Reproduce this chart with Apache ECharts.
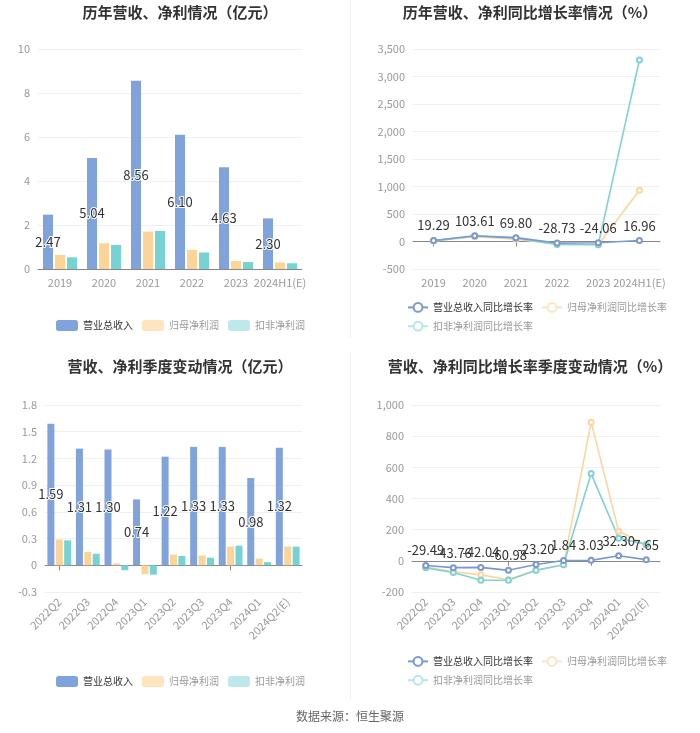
<!DOCTYPE html>
<html><head><meta charset="utf-8">
<script src="https://cdn.jsdelivr.net/npm/echarts@6/dist/echarts.min.js"></script>
<style>html,body{margin:0;padding:0;background:#fff}#c{width:700px;height:733px}</style>
</head><body><div id="c"></div>
<script>
const years = ['2019','2020','2021','2022','2023','2024H1(E)'];
const yRevenue = [2.47,5.04,8.56,6.10,4.63,2.30];
const yNetProfit = [0.64,1.17,1.70,0.87,0.36,0.30];
const yDeductProfit = [0.53,1.09,1.73,0.75,0.32,0.26];
const yRevGrowth = [19.29,103.61,69.80,-28.73,-24.06,16.96];
const yNpGrowth = [10,85,43,-49,-58,930];
const yDnpGrowth = [12,100,58,-55,-58,3300];
const quarters = ['2022Q2','2022Q3','2022Q4','2023Q1','2023Q2','2023Q3','2023Q4','2024Q1','2024Q2(E)'];
const qRevenue = [1.59,1.31,1.30,0.74,1.22,1.33,1.33,0.98,1.32];
const qNetProfit = [0.29,0.15,0.02,-0.10,0.12,0.11,0.21,0.075,0.21];
const qDeductProfit = [0.28,0.13,-0.055,-0.105,0.105,0.085,0.22,0.035,0.21];
const qRevGrowth = [-29.49,-43.76,-42.04,-60.98,-23.20,1.84,3.03,32.30,7.65];
const qNpGrowth = [-40,-70,-90,-120,-60,-25,890,190,100];
const qDnpGrowth = [-45,-75,-125,-125,-60,-25,560,145,105];

const FONT = '"Noto Sans CJK SC","Noto Sans",sans-serif';
const C_REV = '#80a3db', C_NP = '#fdd497', C_DNP = '#76d2d3';
const C_REVL = '#7d98cc', C_NPL = '#fcd6a2', C_DNPL = '#7fd3d4';
const AX = '#999';

const chart = echarts.init(document.getElementById('c'), null, {renderer:'canvas'});
const barLabel = {show:true, position:'inside', color:'#333', fontSize:13, fontFamily:FONT, textBorderColor:'#fff', textBorderWidth:2, formatter: p => p.value.toFixed(2)};
const lineLabel = {show:true, position:'top', color:'#333', fontSize:13, fontFamily:FONT, formatter: p => p.value.toFixed(2)};

function yAx(gi, min, max, interval) {
  return {type:'value', gridIndex:gi, min, max, interval,
    axisLabel:{color:AX, fontSize:11, fontFamily:FONT},
    axisLine:{show:false}, axisTick:{show:false},
    splitLine:{lineStyle:{color:'#eef0f4'}}};
}
function xAxLabels(gi, data, rotate) {
  return {type:'category', gridIndex:gi, data, position:'bottom',
    axisLine:{show:false, onZero:false}, axisTick:{show:false},
    axisLabel:{color:AX, fontSize:11, fontFamily:FONT, rotate:rotate||0, interval:0, margin:8}};
}
function xAxZero(gi, data, ticks) {
  return {type:'category', gridIndex:gi, data, position:'bottom',
    axisLine:{show:true, onZero:true, lineStyle:{color:'#888'}},
    axisTick:{show:ticks, alignWithLabel:true, lineStyle:{color:'#888'}},
    axisLabel:{show:false}, splitLine:{show:false}};
}
const lgText = {fontSize:10, fontFamily:FONT, color:'#999'};
function barLegend(top) {
  return {top, left:51, itemWidth:22, itemHeight:11, itemGap:9, textStyle:lgText,
    data:[
      {name:'营业总收入', textStyle:{color:'#333'}},
      {name:'归母净利润', itemStyle:{color:'#fee5bf'}},
      {name:'扣非净利润', itemStyle:{color:'#bde9ea'}}
    ]};
}
function lineLegend(top, left) {
  return {top, left, width:270, itemWidth:20, itemHeight:11, itemGap:8, textStyle:lgText,
    data:[
      {name:'营业总收入同比增长率', textStyle:{color:'#333'}},
      {name:'归母净利润同比增长率', itemStyle:{color:'#fde4c4', borderColor:'#fde4c4'}, lineStyle:{color:'#fde4c4'}},
      {name:'扣非净利润同比增长率', itemStyle:{color:'#b5e6e8', borderColor:'#b5e6e8'}, lineStyle:{color:'#b5e6e8'}}
    ]};
}
function bar(name, data, color, xi, yi, label, w) {
  return {type:'bar', name, data, xAxisIndex:xi, yAxisIndex:yi, barWidth:w, barGap:'20%',
    itemStyle:{color}, label: label ? barLabel : {show:false}};
}
function line(name, data, color, xi, yi, label, z) {
  return {type:'line', name, data, xAxisIndex:xi, yAxisIndex:yi, symbol:'emptyCircle', symbolSize:5,
    lineStyle:{color, width:1.6}, itemStyle:{color}, z: z||2,
    label: label ? lineLabel : {show:false}};
}
const titleStyle = {fontSize:15, fontWeight:'bold', color:'#333', fontFamily:FONT};

chart.setOption({
  animation:false,
  textStyle:{fontFamily:FONT},
  title:[
    {text:'历年营收、净利情况（亿元）', left:175, top:0, textAlign:'center', textStyle:titleStyle},
    {text:'历年营收、净利同比增长率情况（%）', left:525, top:0, textAlign:'center', textStyle:titleStyle},
    {text:'营收、净利季度变动情况（亿元）', left:175, top:354, textAlign:'center', textStyle:titleStyle},
    {text:'营收、净利同比增长率季度变动情况（%）', left:525, top:354, textAlign:'center', textStyle:titleStyle}
  ],
  legend:[
    barLegend(315),
    lineLegend(297, 402),
    barLegend(671),
    lineLegend(651, 402)
  ],
  grid:[
    {left:38, top:49, width:264, height:220},
    {left:413, top:49, width:247, height:220},
    {left:45, top:405, width:257, height:187},
    {left:412, top:405, width:248, height:187}
  ],
  xAxis:[
    xAxLabels(0, years), xAxZero(0, years, false),
    xAxLabels(1, years), xAxZero(1, years, true),
    xAxLabels(2, quarters, 45), xAxZero(2, quarters, true),
    xAxLabels(3, quarters, 45), xAxZero(3, quarters, true)
  ],
  yAxis:[
    yAx(0, 0, 10, 2),
    yAx(1, -500, 3500, 500),
    yAx(2, -0.3, 1.8, 0.3),
    yAx(3, -200, 1000, 200)
  ],
  series:[
    bar('营业总收入', yRevenue, C_REV, 0, 0, true, 10),
    bar('归母净利润', yNetProfit, C_NP, 0, 0, false, 10),
    bar('扣非净利润', yDeductProfit, C_DNP, 0, 0, false, 10),
    line('营业总收入同比增长率', yRevGrowth, C_REVL, 2, 1, true, 4),
    line('归母净利润同比增长率', yNpGrowth, C_NPL, 2, 1, false, 3),
    line('扣非净利润同比增长率', yDnpGrowth, C_DNPL, 2, 1, false, 3),
    bar('营业总收入', qRevenue, C_REV, 4, 2, true, 7),
    bar('归母净利润', qNetProfit, C_NP, 4, 2, false, 7),
    bar('扣非净利润', qDeductProfit, C_DNP, 4, 2, false, 7),
    line('营业总收入同比增长率', qRevGrowth, C_REVL, 6, 3, true, 4),
    line('归母净利润同比增长率', qNpGrowth, C_NPL, 6, 3, false, 3),
    line('扣非净利润同比增长率', qDnpGrowth, C_DNPL, 6, 3, false, 3)
  ],
  graphic:[
    {type:'line', shape:{x1:350.5, y1:0, x2:350.5, y2:338}, style:{stroke:'#f0f0f0', lineWidth:1}},
    {type:'line', shape:{x1:350.5, y1:352, x2:350.5, y2:700}, style:{stroke:'#f0f0f0', lineWidth:1}},
    {type:'text', left:'center', top:710, style:{text:'数据来源：恒生聚源', fill:'#666', font:'12px '+FONT}}
  ]
});
</script></body></html>
